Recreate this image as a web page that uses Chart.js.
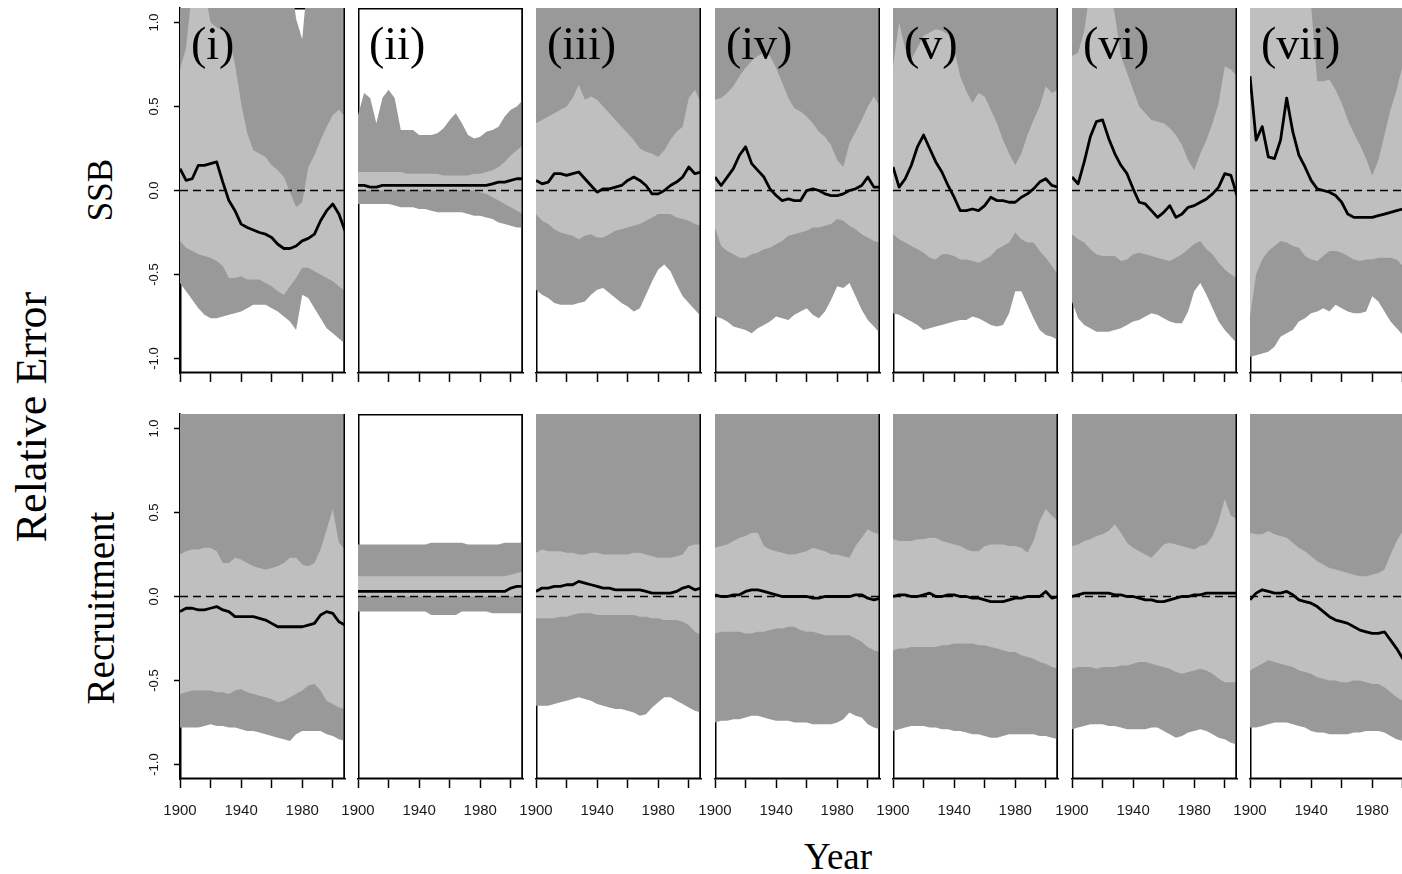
<!DOCTYPE html>
<html>
<head>
<meta charset="utf-8">
<title>Relative Error: SSB and Recruitment</title>
<script src="https://cdn.jsdelivr.net/npm/chart.js@4.4.1/dist/chart.umd.min.js"></script>
<style>
  html, body { margin: 0; padding: 0; background: #fff; }
  body { width: 1402px; height: 874px; position: relative; overflow: hidden; }
  canvas { position: absolute; }
  .lbl { position: absolute; font-family: 'Liberation Serif', 'Times New Roman', serif; color: #000; line-height: 1; white-space: nowrap; }
  .rot { transform: translate(-50%, -50%) rotate(-90deg); }
  .ctr { transform: translate(-50%, -50%); }
</style>
</head>
<body>
<div class="lbl rot" style="left:32px; top:417px; font-size:44px;">Relative Error</div>
<div class="lbl rot" style="left:100px; top:190px; font-size:35px;">SSB</div>
<div class="lbl rot" style="left:100px; top:608px; font-size:39px;">Recruitment</div>
<div class="lbl ctr" style="left:838px; top:856px; font-size:37px;">Year</div>
<script>
// Years sampled along each run, and axis ticks
const years = [1900, 1904, 1908, 1912, 1916, 1920, 1924, 1928, 1932, 1936, 1940, 1944, 1948, 1952,
               1956, 1960, 1964, 1968, 1972, 1976, 1980, 1984, 1988, 1992, 1996, 2000, 2004, 2008];
const tickYears = [1900, 1920, 1940, 1960, 1980, 2000];
const labelYears = [1900, 1940, 1980];
const yTicks = [-1, -0.5, 0, 0.5, 1];
const panelLabels = ['(i)', '(ii)', '(iii)', '(iv)', '(v)', '(vi)', '(vii)'];
const zeroYears = [1900, 2008];
const zeroLine = [0, 0];

// SSB: outer (dark) and inner (light) bands plus median, one row per scenario.
// outer upper limit is null where it lies above the plotted range
const ssbOuterHi = [
    [1.3, 1.3, 1.3, 1.3, 1.3, 1.3, 1.3, 1.3, 1.3, 1.3, 1.3, 1.3, 1.3, 1.3, 1.3, 1.3, 1.3, 1.3, 1.3, 1.02, 0.9, 1.3, 1.3, 1.3, 1.3, 1.3, 1.3, 1.3],
    [0.45, 0.58, 0.55, 0.4, 0.55, 0.6, 0.55, 0.36, 0.36, 0.36, 0.33, 0.33, 0.33, 0.34, 0.37, 0.42, 0.46, 0.4, 0.33, 0.31, 0.32, 0.35, 0.36, 0.38, 0.44, 0.48, 0.5, 0.54],
    null, null, null, null, null
];
const ssbInnerHi = [
    [0.72, 0.85, 1.2, 1.2, 1.2, 1.0, 0.97, 0.95, 0.92, 0.75, 0.52, 0.34, 0.24, 0.22, 0.2, 0.15, 0.12, 0.08, -0.01, -0.1, -0.07, 0.14, 0.21, 0.3, 0.38, 0.45, 0.48, 0.44],
    [0.11, 0.11, 0.11, 0.11, 0.11, 0.11, 0.11, 0.11, 0.1, 0.1, 0.1, 0.1, 0.1, 0.1, 0.09, 0.09, 0.09, 0.09, 0.09, 0.1, 0.1, 0.11, 0.12, 0.14, 0.17, 0.21, 0.24, 0.27],
    [0.4, 0.42, 0.44, 0.46, 0.48, 0.5, 0.55, 0.63, 0.54, 0.56, 0.54, 0.5, 0.46, 0.42, 0.38, 0.34, 0.3, 0.25, 0.23, 0.22, 0.2, 0.24, 0.3, 0.35, 0.38, 0.55, 0.6, 0.52],
    [0.54, 0.55, 0.58, 0.62, 0.68, 0.73, 0.77, 0.8, 0.82, 0.8, 0.73, 0.64, 0.55, 0.49, 0.47, 0.44, 0.4, 0.35, 0.32, 0.27, 0.18, 0.14, 0.28, 0.35, 0.42, 0.5, 0.56, 0.5],
    [0.74, 1.0, 0.84, 0.78, 0.85, 0.92, 0.94, 0.96, 0.95, 0.93, 0.84, 0.68, 0.59, 0.52, 0.58, 0.56, 0.48, 0.4, 0.3, 0.22, 0.15, 0.22, 0.33, 0.42, 0.5, 0.62, 0.58, 0.6],
    [0.8, 0.82, 0.95, 1.2, 1.2, 1.2, 1.2, 1.05, 0.8, 0.7, 0.6, 0.5, 0.46, 0.42, 0.41, 0.4, 0.37, 0.33, 0.27, 0.18, 0.12, 0.22, 0.3, 0.4, 0.52, 0.74, 0.72, 0.68],
    [1.3, 1.3, 1.3, 1.3, 1.3, 1.3, 1.3, 1.3, 1.3, 1.3, 1.1, 0.65, 0.65, 0.66, 0.6, 0.52, 0.42, 0.34, 0.27, 0.19, 0.09, 0.18, 0.33, 0.48, 0.6, 0.75, 0.85, 0.9]
];
const ssbMedian = [
    [0.13, 0.06, 0.07, 0.15, 0.15, 0.16, 0.17, 0.05, -0.06, -0.12, -0.2, -0.22, -0.235, -0.25, -0.26, -0.28, -0.32, -0.345, -0.345, -0.33, -0.3, -0.285, -0.26, -0.18, -0.12, -0.08, -0.14, -0.24],
    [0.03, 0.03, 0.02, 0.02, 0.03, 0.03, 0.03, 0.03, 0.03, 0.03, 0.03, 0.03, 0.03, 0.03, 0.03, 0.03, 0.03, 0.03, 0.03, 0.03, 0.03, 0.03, 0.04, 0.05, 0.05, 0.06, 0.07, 0.07],
    [0.06, 0.04, 0.05, 0.1, 0.1, 0.09, 0.1, 0.11, 0.07, 0.03, -0.01, 0.01, 0.01, 0.02, 0.03, 0.06, 0.08, 0.06, 0.03, -0.02, -0.02, 0.0, 0.03, 0.05, 0.08, 0.14, 0.1, 0.11],
    [0.08, 0.03, 0.08, 0.13, 0.21, 0.26, 0.16, 0.12, 0.08, 0.01, -0.03, -0.06, -0.05, -0.06, -0.06, 0.0, 0.01, 0.0, -0.02, -0.03, -0.03, -0.02, 0.0, 0.01, 0.03, 0.08, 0.02, 0.02],
    [0.14, 0.02, 0.07, 0.15, 0.26, 0.33, 0.25, 0.17, 0.11, 0.03, -0.04, -0.12, -0.12, -0.11, -0.12, -0.09, -0.04, -0.06, -0.06, -0.07, -0.07, -0.04, -0.02, 0.01, 0.05, 0.07, 0.03, 0.02],
    [0.08, 0.04, 0.17, 0.32, 0.41, 0.42, 0.31, 0.22, 0.15, 0.1, 0.01, -0.07, -0.08, -0.12, -0.16, -0.13, -0.09, -0.16, -0.14, -0.1, -0.09, -0.07, -0.05, -0.02, 0.02, 0.1, 0.09, -0.03],
    [0.68, 0.3, 0.38, 0.2, 0.19, 0.3, 0.55, 0.35, 0.21, 0.14, 0.06, 0.01, 0.0, -0.01, -0.03, -0.07, -0.14, -0.16, -0.16, -0.16, -0.16, -0.15, -0.14, -0.13, -0.12, -0.11, -0.1, -0.1]
];
const ssbInnerLo = [
    [-0.3, -0.34, -0.36, -0.38, -0.39, -0.4, -0.42, -0.45, -0.52, -0.52, -0.51, -0.53, -0.53, -0.53, -0.55, -0.57, -0.6, -0.62, -0.57, -0.52, -0.46, -0.46, -0.48, -0.5, -0.52, -0.54, -0.57, -0.6],
    [0.0, 0.0, 0.0, 0.0, 0.0, 0.0, 0.0, 0.0, 0.0, 0.0, 0.0, 0.0, 0.0, 0.0, 0.0, 0.0, 0.0, 0.0, 0.0, 0.0, -0.01, -0.02, -0.04, -0.06, -0.08, -0.1, -0.12, -0.14],
    [-0.14, -0.18, -0.2, -0.23, -0.25, -0.26, -0.27, -0.29, -0.27, -0.26, -0.28, -0.28, -0.26, -0.24, -0.23, -0.22, -0.21, -0.2, -0.18, -0.16, -0.14, -0.14, -0.14, -0.16, -0.17, -0.18, -0.2, -0.21],
    [-0.22, -0.33, -0.36, -0.38, -0.4, -0.4, -0.38, -0.37, -0.35, -0.34, -0.32, -0.3, -0.27, -0.26, -0.25, -0.24, -0.22, -0.22, -0.21, -0.2, -0.17, -0.18, -0.21, -0.23, -0.26, -0.28, -0.3, -0.31],
    [-0.26, -0.29, -0.31, -0.33, -0.35, -0.37, -0.4, -0.41, -0.38, -0.38, -0.39, -0.41, -0.41, -0.42, -0.43, -0.41, -0.39, -0.35, -0.33, -0.31, -0.25, -0.29, -0.31, -0.31, -0.36, -0.4, -0.45, -0.5],
    [-0.26, -0.29, -0.31, -0.35, -0.38, -0.39, -0.39, -0.39, -0.42, -0.41, -0.38, -0.37, -0.38, -0.39, -0.4, -0.41, -0.42, -0.4, -0.38, -0.35, -0.32, -0.3, -0.35, -0.38, -0.43, -0.47, -0.5, -0.52],
    [-0.75, -0.5, -0.41, -0.36, -0.33, -0.3, -0.31, -0.33, -0.34, -0.39, -0.41, -0.42, -0.39, -0.36, -0.36, -0.37, -0.39, -0.41, -0.42, -0.41, -0.41, -0.4, -0.4, -0.4, -0.41, -0.45, -0.48, -0.5]
];
const ssbOuterLo = [
    [-0.55, -0.6, -0.65, -0.7, -0.74, -0.76, -0.76, -0.75, -0.74, -0.73, -0.72, -0.7, -0.68, -0.68, -0.68, -0.7, -0.72, -0.75, -0.78, -0.83, -0.62, -0.64, -0.7, -0.76, -0.82, -0.85, -0.88, -0.91],
    [-0.08, -0.08, -0.08, -0.08, -0.08, -0.08, -0.09, -0.1, -0.1, -0.1, -0.11, -0.11, -0.12, -0.13, -0.13, -0.13, -0.13, -0.13, -0.14, -0.15, -0.15, -0.16, -0.17, -0.19, -0.2, -0.21, -0.22, -0.22],
    [-0.59, -0.62, -0.64, -0.67, -0.68, -0.68, -0.68, -0.67, -0.66, -0.62, -0.59, -0.58, -0.61, -0.64, -0.67, -0.69, -0.72, -0.7, -0.62, -0.54, -0.47, -0.44, -0.48, -0.56, -0.63, -0.67, -0.71, -0.75],
    [-0.75, -0.76, -0.78, -0.81, -0.82, -0.83, -0.85, -0.82, -0.8, -0.78, -0.75, -0.76, -0.77, -0.74, -0.72, -0.7, -0.74, -0.76, -0.72, -0.65, -0.57, -0.58, -0.55, -0.63, -0.71, -0.77, -0.81, -0.85],
    [-0.73, -0.74, -0.76, -0.78, -0.8, -0.83, -0.82, -0.81, -0.8, -0.79, -0.78, -0.77, -0.77, -0.75, -0.76, -0.78, -0.8, -0.81, -0.8, -0.73, -0.6, -0.6, -0.68, -0.76, -0.83, -0.86, -0.87, -0.89],
    [-0.66, -0.76, -0.8, -0.82, -0.84, -0.84, -0.84, -0.83, -0.82, -0.8, -0.78, -0.77, -0.75, -0.73, -0.74, -0.76, -0.78, -0.79, -0.79, -0.72, -0.6, -0.55, -0.62, -0.7, -0.78, -0.83, -0.87, -0.91],
    [-0.99, -0.98, -0.97, -0.96, -0.93, -0.87, -0.85, -0.83, -0.78, -0.76, -0.73, -0.72, -0.7, -0.72, -0.68, -0.7, -0.72, -0.73, -0.73, -0.72, -0.63, -0.66, -0.72, -0.78, -0.82, -0.86, -0.9, -0.93]
];

// Recruitment: same layout of bands and median
const recOuterHi = [
    null,
    [0.31, 0.31, 0.31, 0.31, 0.31, 0.31, 0.31, 0.31, 0.31, 0.31, 0.31, 0.31, 0.32, 0.32, 0.32, 0.32, 0.32, 0.32, 0.31, 0.31, 0.31, 0.31, 0.31, 0.31, 0.32, 0.32, 0.32, 0.32],
    null, null, null, null, null
];
const recInnerHi = [
    [0.25, 0.27, 0.28, 0.28, 0.29, 0.29, 0.27, 0.2, 0.2, 0.23, 0.22, 0.2, 0.18, 0.17, 0.16, 0.17, 0.18, 0.2, 0.23, 0.23, 0.19, 0.18, 0.2, 0.28, 0.4, 0.52, 0.32, 0.28],
    [0.12, 0.12, 0.12, 0.12, 0.12, 0.12, 0.12, 0.12, 0.12, 0.12, 0.12, 0.12, 0.12, 0.12, 0.12, 0.12, 0.12, 0.12, 0.12, 0.12, 0.12, 0.12, 0.12, 0.12, 0.12, 0.13, 0.14, 0.15],
    [0.26, 0.28, 0.27, 0.27, 0.27, 0.26, 0.26, 0.25, 0.25, 0.26, 0.26, 0.25, 0.25, 0.25, 0.25, 0.25, 0.26, 0.26, 0.25, 0.24, 0.23, 0.23, 0.23, 0.24, 0.25, 0.3, 0.31, 0.31],
    [0.29, 0.3, 0.31, 0.33, 0.35, 0.36, 0.38, 0.38, 0.3, 0.28, 0.27, 0.26, 0.25, 0.25, 0.26, 0.27, 0.29, 0.28, 0.27, 0.25, 0.25, 0.24, 0.23, 0.3, 0.35, 0.4, 0.38, 0.37],
    [0.34, 0.33, 0.33, 0.33, 0.34, 0.34, 0.35, 0.35, 0.33, 0.32, 0.31, 0.3, 0.28, 0.27, 0.27, 0.3, 0.31, 0.31, 0.31, 0.3, 0.3, 0.29, 0.26, 0.33, 0.45, 0.52, 0.48, 0.45],
    [0.3, 0.31, 0.33, 0.34, 0.36, 0.37, 0.39, 0.43, 0.38, 0.32, 0.29, 0.27, 0.25, 0.23, 0.27, 0.31, 0.32, 0.31, 0.3, 0.29, 0.28, 0.3, 0.31, 0.36, 0.45, 0.58, 0.48, 0.46],
    [0.38, 0.37, 0.37, 0.39, 0.37, 0.36, 0.35, 0.32, 0.29, 0.27, 0.24, 0.21, 0.19, 0.17, 0.16, 0.15, 0.14, 0.13, 0.12, 0.12, 0.13, 0.14, 0.16, 0.25, 0.33, 0.39, 0.42, 0.44]
];
const recMedian = [
    [-0.09, -0.07, -0.07, -0.08, -0.08, -0.07, -0.06, -0.08, -0.09, -0.12, -0.12, -0.12, -0.12, -0.13, -0.14, -0.16, -0.18, -0.18, -0.18, -0.18, -0.18, -0.17, -0.16, -0.11, -0.09, -0.1, -0.15, -0.17],
    [0.03, 0.03, 0.03, 0.03, 0.03, 0.03, 0.03, 0.03, 0.03, 0.03, 0.03, 0.03, 0.03, 0.03, 0.03, 0.03, 0.03, 0.03, 0.03, 0.03, 0.03, 0.03, 0.03, 0.03, 0.03, 0.05, 0.06, 0.06],
    [0.03, 0.05, 0.05, 0.06, 0.06, 0.07, 0.07, 0.09, 0.08, 0.07, 0.06, 0.05, 0.05, 0.04, 0.04, 0.04, 0.04, 0.04, 0.03, 0.02, 0.02, 0.02, 0.02, 0.03, 0.05, 0.06, 0.04, 0.05],
    [0.01, 0.0, 0.0, 0.01, 0.01, 0.03, 0.04, 0.04, 0.03, 0.02, 0.01, 0.0, 0.0, 0.0, 0.0, 0.0, -0.01, -0.01, 0.0, 0.0, 0.0, 0.0, 0.0, 0.01, 0.01, -0.01, -0.02, -0.01],
    [0.0, 0.01, 0.01, 0.0, 0.0, 0.01, 0.02, 0.0, 0.0, 0.01, 0.01, 0.0, 0.0, -0.01, -0.01, -0.02, -0.03, -0.03, -0.03, -0.02, -0.01, -0.01, 0.0, 0.0, 0.0, 0.03, -0.01, 0.0],
    [0.0, 0.01, 0.02, 0.02, 0.02, 0.02, 0.02, 0.01, 0.01, 0.0, 0.0, -0.01, -0.02, -0.02, -0.03, -0.03, -0.02, -0.01, 0.0, 0.0, 0.01, 0.01, 0.02, 0.02, 0.02, 0.02, 0.02, 0.02],
    [-0.02, 0.02, 0.04, 0.03, 0.02, 0.02, 0.03, 0.01, -0.02, -0.03, -0.04, -0.06, -0.09, -0.12, -0.14, -0.15, -0.16, -0.18, -0.2, -0.21, -0.22, -0.22, -0.21, -0.26, -0.31, -0.37, -0.42, -0.46]
];
const recInnerLo = [
    [-0.58, -0.57, -0.56, -0.56, -0.56, -0.56, -0.57, -0.57, -0.58, -0.56, -0.55, -0.57, -0.58, -0.59, -0.6, -0.61, -0.63, -0.62, -0.6, -0.58, -0.56, -0.53, -0.52, -0.56, -0.62, -0.64, -0.66, -0.67],
    [0.0, 0.0, 0.0, 0.0, 0.0, 0.0, 0.0, 0.0, 0.0, 0.0, 0.0, 0.0, 0.0, 0.0, 0.0, 0.0, 0.0, 0.0, 0.0, 0.0, 0.0, 0.0, 0.0, 0.0, 0.0, 0.0, 0.0, 0.0],
    [-0.13, -0.13, -0.13, -0.13, -0.12, -0.12, -0.11, -0.1, -0.1, -0.1, -0.11, -0.11, -0.11, -0.11, -0.11, -0.11, -0.11, -0.12, -0.12, -0.13, -0.13, -0.14, -0.14, -0.14, -0.15, -0.17, -0.21, -0.23],
    [-0.22, -0.21, -0.21, -0.21, -0.21, -0.22, -0.22, -0.21, -0.21, -0.2, -0.19, -0.19, -0.18, -0.18, -0.2, -0.21, -0.21, -0.22, -0.23, -0.23, -0.23, -0.23, -0.23, -0.25, -0.27, -0.3, -0.32, -0.33],
    [-0.32, -0.31, -0.31, -0.3, -0.3, -0.3, -0.3, -0.3, -0.29, -0.29, -0.28, -0.28, -0.28, -0.28, -0.29, -0.29, -0.3, -0.31, -0.32, -0.33, -0.33, -0.35, -0.36, -0.37, -0.39, -0.4, -0.42, -0.43],
    [-0.43, -0.42, -0.42, -0.42, -0.43, -0.42, -0.42, -0.42, -0.41, -0.41, -0.4, -0.39, -0.39, -0.4, -0.41, -0.42, -0.43, -0.45, -0.46, -0.45, -0.44, -0.43, -0.44, -0.46, -0.49, -0.51, -0.51, -0.51],
    [-0.44, -0.42, -0.4, -0.38, -0.39, -0.4, -0.41, -0.42, -0.44, -0.45, -0.46, -0.48, -0.49, -0.5, -0.5, -0.51, -0.51, -0.5, -0.5, -0.51, -0.52, -0.52, -0.54, -0.57, -0.6, -0.62, -0.64, -0.66]
];
const recOuterLo = [
    [-0.78, -0.78, -0.78, -0.78, -0.77, -0.76, -0.77, -0.77, -0.78, -0.78, -0.79, -0.8, -0.8, -0.81, -0.82, -0.83, -0.84, -0.85, -0.86, -0.82, -0.8, -0.8, -0.8, -0.8, -0.82, -0.83, -0.85, -0.86],
    [-0.09, -0.09, -0.09, -0.09, -0.09, -0.09, -0.09, -0.09, -0.09, -0.09, -0.09, -0.09, -0.11, -0.11, -0.11, -0.11, -0.11, -0.09, -0.09, -0.09, -0.09, -0.09, -0.1, -0.1, -0.1, -0.1, -0.1, -0.1],
    [-0.65, -0.65, -0.65, -0.64, -0.63, -0.62, -0.61, -0.6, -0.61, -0.62, -0.64, -0.65, -0.66, -0.67, -0.67, -0.68, -0.69, -0.71, -0.7, -0.66, -0.63, -0.6, -0.6, -0.62, -0.64, -0.66, -0.68, -0.69],
    [-0.75, -0.74, -0.74, -0.73, -0.73, -0.72, -0.71, -0.71, -0.72, -0.73, -0.74, -0.74, -0.74, -0.75, -0.75, -0.75, -0.76, -0.76, -0.76, -0.76, -0.75, -0.73, -0.69, -0.71, -0.72, -0.76, -0.78, -0.79],
    [-0.8, -0.79, -0.78, -0.77, -0.77, -0.77, -0.78, -0.78, -0.79, -0.79, -0.8, -0.8, -0.81, -0.82, -0.82, -0.83, -0.84, -0.84, -0.83, -0.82, -0.82, -0.82, -0.82, -0.82, -0.83, -0.83, -0.84, -0.85],
    [-0.79, -0.78, -0.77, -0.76, -0.76, -0.76, -0.77, -0.77, -0.78, -0.79, -0.79, -0.79, -0.79, -0.78, -0.78, -0.8, -0.82, -0.84, -0.83, -0.81, -0.8, -0.79, -0.8, -0.82, -0.84, -0.85, -0.87, -0.88],
    [-0.78, -0.78, -0.77, -0.76, -0.75, -0.75, -0.75, -0.76, -0.77, -0.78, -0.8, -0.81, -0.81, -0.82, -0.82, -0.82, -0.82, -0.81, -0.81, -0.8, -0.8, -0.8, -0.81, -0.83, -0.85, -0.86, -0.87, -0.88]
];

const rows = [
    { outerHi: ssbOuterHi, innerHi: ssbInnerHi, median: ssbMedian, innerLo: ssbInnerLo, outerLo: ssbOuterLo },
    { outerHi: recOuterHi, innerHi: recInnerHi, median: recMedian, innerLo: recInnerLo, outerLo: recOuterLo }
];

// Panel geometry (plot area of each panel)
const DARK = '#999999';
const LIGHT = '#bfbfbf';
const colLeft = [180, 358, 536, 715, 893, 1072, 1250];
const rowTop = [8, 414];
const plotW = 165, plotH = 365;
const Y_MIN = -1.086, Y_MAX = 1.086;

const toPoints = (xs, ys) => ys.map((v, i) => ({ x: xs[i], y: v }));

const band = (values, fill, color, order) => ({
    data: toPoints(years, values),
    fill: fill,
    backgroundColor: color,
    borderColor: 'rgba(0,0,0,0)',
    borderWidth: 0,
    pointRadius: 0,
    order: order
});

// Box round the plot: drawn under the bands, right edge on top
const panelFrame = {
    id: 'panelFrame',
    beforeDatasetsDraw(chart) {
        const { ctx, chartArea: a } = chart;
        ctx.save();
        ctx.strokeStyle = '#000';
        ctx.lineWidth = 1.5;
        ctx.strokeRect(a.left + 0.75, a.top + 0.75, a.right - a.left - 1.5, a.bottom - a.top - 1.5);
        ctx.restore();
    },
    afterDatasetsDraw(chart) {
        const { ctx, chartArea: a } = chart;
        ctx.save();
        ctx.strokeStyle = '#000';
        ctx.lineWidth = 1.5;
        ctx.beginPath();
        ctx.moveTo(a.right - 0.75, a.top);
        ctx.lineTo(a.right - 0.75, a.bottom);
        ctx.stroke();
        ctx.restore();
    }
};

const makePanel = (row, col) => {
    const first = col === 0;
    const padL = first ? 4 : 22, yAxisW = first ? 56 : 0, padR = 22, padT = 4;
    const xAxisH = row === 1 ? 45 : 14;
    const set = rows[row];

    const canvas = document.createElement('canvas');
    canvas.width = padL + yAxisW + plotW + padR;
    canvas.height = padT + plotH + xAxisH;
    canvas.style.left = (colLeft[col] - padL - yAxisW) + 'px';
    canvas.style.top = (rowTop[row] - padT) + 'px';
    document.body.appendChild(canvas);

    const datasets = [];
    if (set.outerHi[col]) {
        datasets.push(band(set.outerHi[col], '+1', DARK, 3));
        datasets.push(band(set.outerLo[col], false, DARK, 3));
    } else {
        datasets.push(band(set.outerLo[col], 'end', DARK, 3));
    }
    datasets.push(band(set.innerHi[col], '+1', LIGHT, 2));
    datasets.push(band(set.innerLo[col], false, LIGHT, 2));
    datasets.push({
        data: toPoints(zeroYears, zeroLine),
        borderColor: '#000',
        borderWidth: 1.5,
        borderDash: [8, 5],
        pointRadius: 0,
        fill: false,
        order: 1
    });
    datasets.push({
        data: toPoints(years, set.median[col]),
        borderColor: '#000',
        borderWidth: 2.8,
        borderJoinStyle: 'round',
        pointRadius: 0,
        fill: false,
        order: 0
    });

    new Chart(canvas.getContext('2d'), {
        type: 'line',
        data: { datasets: datasets },
        options: {
            responsive: false,
            animation: false,
            events: [],
            layout: { padding: { left: padL, right: padR, top: padT, bottom: 0 } },
            plugins: { legend: { display: false }, tooltip: { enabled: false } },
            scales: {
                x: {
                    type: 'linear',
                    min: 1900,
                    max: 2008,
                    afterBuildTicks: s => { s.ticks = tickYears.map(v => ({ value: v })); },
                    afterFit: s => { s.height = xAxisH; s.paddingLeft = 0; s.paddingRight = 0; },
                    grid: { drawOnChartArea: false, drawTicks: true, tickLength: 9, tickWidth: 1.5, tickColor: '#000' },
                    border: { display: true, color: '#000', width: 1.5 },
                    ticks: {
                        autoSkip: false,
                        minRotation: 0,
                        maxRotation: 0,
                        padding: 14,
                        color: '#1a1a1a',
                        font: { family: "'Liberation Sans', Arial, sans-serif", size: 15 },
                        callback: v => (row === 1 && labelYears.includes(v)) ? String(v) : ''
                    }
                },
                y: {
                    display: first,
                    position: 'left',
                    min: Y_MIN,
                    max: Y_MAX,
                    afterBuildTicks: s => { s.ticks = yTicks.map(v => ({ value: v })); },
                    afterFit: s => { s.width = yAxisW; s.paddingTop = 0; s.paddingBottom = 0; },
                    grid: { drawOnChartArea: false, drawTicks: true, tickLength: 6, tickWidth: 1.5, tickColor: '#000' },
                    border: { display: true, color: '#000', width: 1.5 },
                    ticks: {
                        minRotation: 90,
                        maxRotation: 90,
                        crossAlign: 'center',
                        padding: 8,
                        color: '#111',
                        font: { family: "'Liberation Sans', Arial, sans-serif", size: 13 },
                        callback: v => v.toFixed(1)
                    }
                }
            }
        },
        plugins: [panelFrame]
    });
};

for (let row = 0; row < 2; row++) {
    for (let col = 0; col < 7; col++) makePanel(row, col);
}

// Scenario labels in the top row
panelLabels.forEach((text, col) => {
    const el = document.createElement('div');
    el.className = 'lbl';
    el.textContent = text;
    el.style.fontSize = '46px';
    el.style.left = (colLeft[col] + 11) + 'px';
    el.style.top = '21px';
    document.body.appendChild(el);
});
</script>
</body>
</html>
